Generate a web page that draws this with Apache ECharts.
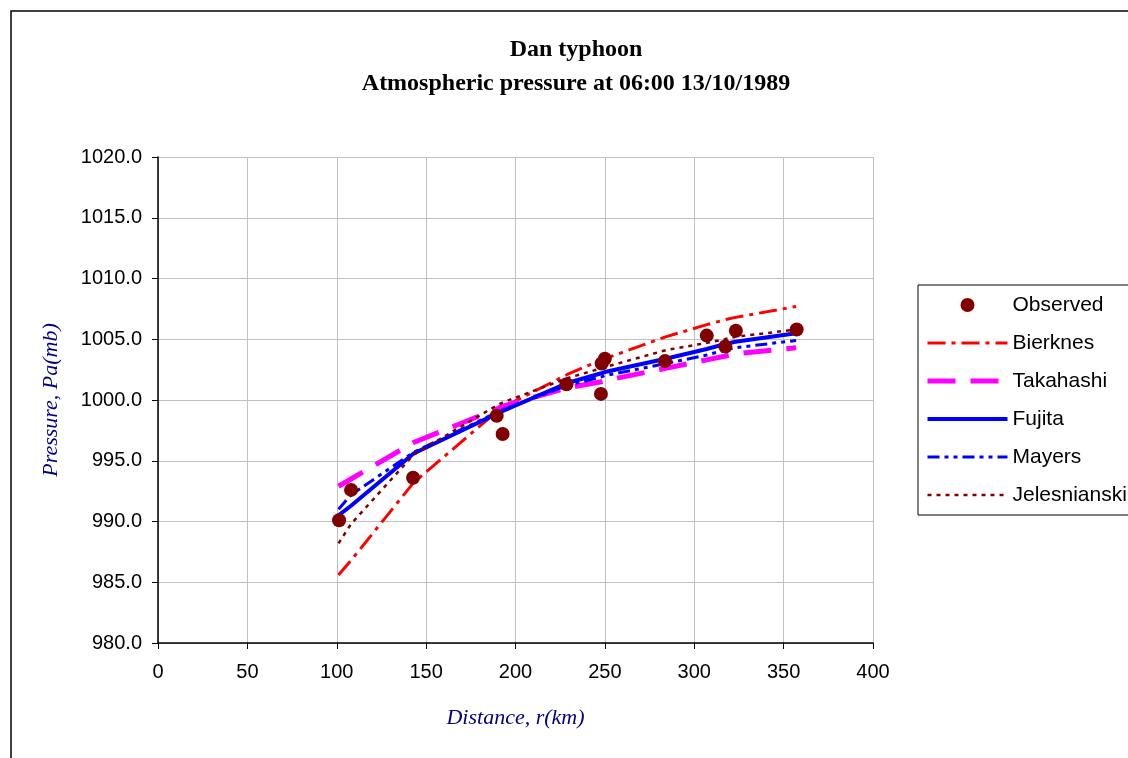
<!DOCTYPE html>
<html><head><meta charset="utf-8">
<script src="https://cdn.jsdelivr.net/npm/echarts@6/dist/echarts.min.js"></script>
<style>html,body{margin:0;padding:0;background:#fff}#c{width:1128px;height:758px}</style>
</head><body><div id="c"></div>
<script>
// Observed data
const observedX = [101.3, 108, 142.7, 189.5, 192.8, 228.5, 247.8, 248.2, 250, 283.6, 307, 317.4, 323.3, 357.3];
const observedY = [990.1, 992.6, 993.6, 998.7, 997.2, 1001.3, 1000.5, 1003.0, 1003.4, 1003.2, 1005.3, 1004.4, 1005.7, 1005.8];
// Model distances
const modelX = [101, 108, 143, 190, 193, 229, 248, 250, 284, 307, 317, 323, 357];
const bierknes     = [985.6, 986.8, 993.2, 999.1, 999.4, 1002.1, 1003.3, 1003.4, 1005.2, 1006.2, 1006.6, 1006.8, 1007.7];
const takahashi    = [992.9, 993.5, 996.5, 999.3, 999.5, 1001.0, 1001.5, 1001.6, 1002.6, 1003.3, 1003.6, 1003.8, 1004.3];
const fujita       = [990.5, 991.3, 995.6, 998.9, 999.1, 1001.4, 1002.2, 1002.3, 1003.4, 1004.2, 1004.6, 1004.8, 1005.5];
const mayers       = [991.0, 992.2, 995.7, 999.0, 999.2, 1001.2, 1001.9, 1002.0, 1003.0, 1003.7, 1004.1, 1004.3, 1004.9];
const jelesnianski = [988.2, 989.8, 995.5, 999.6, 999.8, 1001.8, 1002.6, 1002.7, 1004.1, 1004.7, 1005.0, 1005.2, 1005.8];
const seriesNames = ['Observed', 'Bierknes', 'Takahashi', 'Fujita', 'Mayers', 'Jelesnianski'];

const styles = {
  Bierknes:     { color: '#ff0000', width: 3,   type: [18, 6, 4, 6] },
  Takahashi:    { color: '#ff00ff', width: 5,   type: [28, 15] },
  Fujita:       { color: '#0000ff', width: 4,   type: 'solid' },
  Mayers:       { color: '#0000ff', width: 3,   type: [12, 5, 4, 5, 4, 5] },
  Jelesnianski: { color: '#800000', width: 2.5, type: [4, 5] }
};

const pair = (xs, ys) => xs.map((x, i) => [x, ys[i]]);
const lineSeries = (name, ys) => ({
  name, type: 'line', data: pair(modelX, ys), symbol: 'none', smooth: false,
  lineStyle: Object.assign({ cap: 'butt' }, styles[name]), itemStyle: { color: styles[name].color }, z: 2
});

const chart = echarts.init(document.getElementById('c'), null, { renderer: 'canvas' });
chart.setOption({
  animation: false,
  backgroundColor: '#fff',
  graphic: [{
    type: 'rect', silent: true, z: -10,
    shape: { x: 11, y: 11, width: 1200, height: 800 },
    style: { fill: 'none', stroke: '#000', lineWidth: 1.5 }
  }],
  title: {
    text: 'Dan typhoon\nAtmospheric pressure at 06:00 13/10/1989',
    left: 571, top: 28, textAlign: 'center',
    textStyle: { fontFamily: 'Liberation Serif', fontWeight: 'bold', fontSize: 24, lineHeight: 34, color: '#000' }
  },
  legend: {
    orient: 'vertical', left: 918, top: 285,
    padding: [9, 30, 9, 7],
    borderColor: '#000', borderWidth: 1,
    itemWidth: 80, itemHeight: 14, itemGap: 16,
    textStyle: { fontFamily: 'Liberation Sans', fontSize: 21, lineHeight: 22, color: '#000' },
    data: seriesNames.map((n, i) => i === 0 ? { name: n, icon: 'circle' } :
      { name: n, itemStyle: { opacity: 0 }, lineStyle: { color: styles[n].color, width: styles[n].width, type: styles[n].type } })
  },
  grid: { left: 158, top: 157, width: 715, height: 486 },
  xAxis: {
    type: 'value', min: 0, max: 400, interval: 50,
    name: 'Distance, r(km)', nameLocation: 'middle', nameGap: 64,
    nameTextStyle: { fontFamily: 'Liberation Serif', fontStyle: 'italic', fontSize: 22, color: '#000080' },
    axisLine: { show: true, onZero: false, lineStyle: { color: '#000', width: 1.5 } },
    axisTick: { show: true, length: 6, lineStyle: { color: '#000' } },
    axisLabel: { fontFamily: 'Liberation Sans', fontSize: 20, color: '#000', margin: 19 },
    splitLine: { show: true, lineStyle: { color: '#c0c0c0', width: 1 } }
  },
  yAxis: {
    type: 'value', min: 980, max: 1020, interval: 5,
    name: 'Pressure, Pa(mb)', nameLocation: 'middle', nameGap: 96,
    nameTextStyle: { fontFamily: 'Liberation Serif', fontStyle: 'italic', fontSize: 22, color: '#000080' },
    axisLine: { show: true, lineStyle: { color: '#000', width: 1.5 } },
    axisTick: { show: true, length: 6, lineStyle: { color: '#000' } },
    axisLabel: { fontFamily: 'Liberation Sans', fontSize: 20, color: '#000', margin: 16, formatter: v => v.toFixed(1) },
    splitLine: { show: true, lineStyle: { color: '#c0c0c0', width: 1 } }
  },
  series: [
    { name: 'Observed', type: 'scatter', data: pair(observedX, observedY), symbol: 'circle', symbolSize: 14,
      itemStyle: { color: '#800000', opacity: 1 }, z: 5 },
    lineSeries('Bierknes', bierknes),
    lineSeries('Takahashi', takahashi),
    lineSeries('Fujita', fujita),
    lineSeries('Mayers', mayers),
    lineSeries('Jelesnianski', jelesnianski)
  ]
});
</script></body></html>
